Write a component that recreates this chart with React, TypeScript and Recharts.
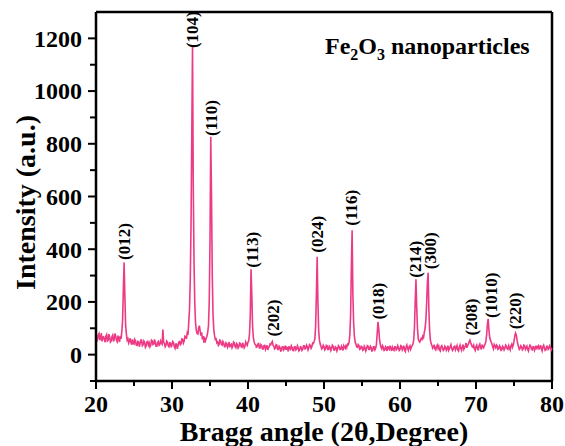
import { LineChart, Line, XAxis, YAxis, ReferenceLine, ReferenceDot } from 'recharts'

const FONT = '"Liberation Serif", "Times New Roman", serif'
const TRACE = '#ec3a84'

// scan counts every 0.1 deg from 20 to 80 (one row per degree)
const SCAN_START = 20
const SCAN_STEP = 0.1
const scanCounts = [
  72, 50, 58, 75, 80, 55, 63, 82, 50, 66,
  68, 58, 47, 70, 76, 52, 55, 78, 66, 48,
  52, 68, 74, 50, 58, 80, 70, 54, 49, 72,
  62, 48, 71, 60, 88, 130, 250, 350, 220, 110,
  78, 55, 60, 44, 52, 62, 46, 38, 58, 42,
  40, 58, 52, 36, 35, 50, 48, 30, 42, 55,
  55, 34, 38, 52, 47, 28, 33, 48, 50, 36,
  44, 30, 36, 55, 52, 38, 40, 58, 47, 32,
  32, 46, 50, 35, 38, 52, 45, 40, 95, 48,
  42, 30, 36, 52, 48, 34, 30, 45, 44, 28,
  38, 50, 46, 30, 24, 40, 40, 22, 35, 48,
  50, 38, 42, 60, 58, 44, 52, 70, 68, 60,
  82, 75, 120, 170, 280, 480, 820, 1170, 640, 350,
  190, 120, 92, 80, 78, 100, 110, 90, 72, 85,
  58, 70, 45, 60, 52, 62, 70, 85, 110, 200,
  430, 827, 600, 300, 150, 95, 72, 58, 60, 45,
  48, 35, 40, 55, 52, 38, 36, 50, 44, 30,
  30, 45, 42, 28, 35, 48, 28, 38, 40, 26,
  33, 48, 45, 30, 26, 42, 38, 25, 30, 44,
  42, 30, 28, 45, 36, 26, 32, 48, 40, 35,
  48, 52, 80, 150, 324, 230, 110, 65, 50, 40,
  38, 28, 30, 40, 42, 25, 26, 38, 34, 22,
  22, 34, 35, 20, 28, 36, 18, 26, 30, 40,
  38, 45, 50, 35, 32, 22, 24, 38, 36, 20,
  20, 32, 28, 14, 16, 30, 30, 18, 24, 34,
  18, 28, 26, 12, 32, 24, 20, 34, 28, 16,
  15, 30, 30, 18, 22, 34, 26, 14, 18, 30,
  28, 16, 20, 34, 34, 22, 24, 36, 30, 18,
  26, 38, 35, 24, 30, 44, 42, 50, 60, 110,
  230, 371, 200, 90, 55, 40, 32, 22, 26, 36,
  30, 18, 22, 35, 34, 20, 20, 32, 28, 16,
  24, 36, 32, 18, 18, 30, 27, 14, 22, 34,
  30, 20, 20, 32, 26, 16, 34, 28, 24, 38,
  28, 40, 38, 48, 75, 150, 330, 472, 230, 120,
  70, 48, 40, 30, 28, 38, 34, 20, 22, 32,
  30, 16, 18, 32, 26, 14, 22, 34, 32, 20,
  20, 32, 28, 14, 16, 30, 30, 18, 24, 40,
  80, 124, 100, 60, 40, 28, 22, 34, 28, 16,
  18, 30, 26, 14, 32, 24, 20, 34, 24, 14,
  28, 20, 16, 30, 30, 18, 22, 34, 26, 16,
  20, 34, 32, 18, 24, 34, 18, 12, 28, 36,
  24, 16, 30, 34, 20, 28, 34, 40, 55, 100,
  200, 286, 180, 100, 60, 52, 48, 55, 62, 58,
  70, 65, 85, 100, 130, 190, 270, 311, 170, 90,
  55, 42, 35, 24, 28, 38, 22, 18, 30, 36,
  24, 32, 18, 14, 30, 34, 26, 16, 20, 32,
  28, 16, 22, 34, 16, 22, 30, 38, 24, 16,
  20, 30, 32, 18, 26, 34, 18, 14, 28, 36,
  24, 16, 30, 38, 20, 26, 34, 44, 26, 34,
  40, 50, 55, 45, 38, 30, 28, 36, 22, 16,
  30, 36, 24, 16, 34, 40, 28, 20, 38, 30,
  26, 34, 40, 50, 75, 115, 136, 95, 65, 55,
  48, 40, 30, 22, 38, 32, 26, 36, 32, 20,
  22, 34, 30, 16, 18, 32, 28, 18, 24, 36,
  32, 22, 20, 34, 26, 18, 34, 40, 28, 36,
  50, 70, 82, 75, 55, 40, 30, 20, 24, 34,
  30, 18, 22, 36, 34, 20, 26, 32, 20, 14,
  28, 36, 32, 20, 18, 30, 30, 16, 24, 34,
  20, 30, 34, 22, 26, 36, 22, 14, 30, 36,
  26, 16, 18, 32, 32, 20, 24, 34, 28, 18,
  24,
]

// hkl labels: angle and intensity at the foot of the label
const peakLabels = [
  { hkl: '(012)', angle: 23.75, at: 359 },
  { hkl: '(104)', angle: 32.75, at: 1163 },
  { hkl: '(110)', angle: 35.2, at: 830 },
  { hkl: '(113)', angle: 40.65, at: 330 },
  { hkl: '(202)', angle: 43.33, at: 69 },
  { hkl: '(024)', angle: 49.17, at: 387 },
  { hkl: '(116)', angle: 53.64, at: 489 },
  { hkl: '(018)', angle: 57.14, at: 133 },
  { hkl: '(214)', angle: 62.0, at: 292 },
  { hkl: '(300)', angle: 64.0, at: 324 },
  { hkl: '(208)', angle: 69.43, at: 73 },
  { hkl: '(1010)', angle: 72.07, at: 139 },
  { hkl: '(220)', angle: 75.26, at: 96 },
]

const xTicks = [20, 25, 30, 35, 40, 45, 50, 55, 60, 65, 70, 75, 80]
const yTicks = [-100, 0, 100, 200, 300, 400, 500, 600, 700, 800, 900, 1000, 1100, 1200]

const data = scanCounts.map((c, i) => ({ angle: +(SCAN_START + i * SCAN_STEP).toFixed(2), counts: c }))

const tickText = { fontFamily: FONT, fontWeight: 'bold' as const, fontSize: 24, fill: '#000' }

function XTick({ x, y, payload }: any) {
  const major = payload.value % 10 === 0
  return (
    <g>
      <line x1={x} y1={y} x2={x} y2={y + (major ? 8 : 5)} stroke="#000" strokeWidth={2} />
      {major && (
        <text x={x} y={y + 31} textAnchor="middle" style={tickText}>
          {payload.value}
        </text>
      )}
    </g>
  )
}

function YTick({ x, y, payload }: any) {
  const major = payload.value >= 0 && payload.value % 200 === 0
  return (
    <g>
      <line x1={x} y1={y} x2={x - (major ? 8 : 6)} y2={y} stroke="#000" strokeWidth={2} />
      {major && (
        <text x={x - 14} y={y} dy="0.35em" textAnchor="end" style={tickText}>
          {payload.value}
        </text>
      )}
    </g>
  )
}

const titleText = { fontFamily: FONT, fontWeight: 'bold' as const, fontSize: 28, fill: '#000' }

export default function App() {
  return (
    <div style={{ position: 'absolute', left: 0, top: 0, width: 565, height: 446, background: '#fff' }}>
      <LineChart width={565} height={446} data={data} margin={{ top: 12, right: 13, bottom: 0, left: 0 }}>
        <XAxis
          type="number"
          dataKey="angle"
          domain={[20, 80]}
          ticks={xTicks}
          interval={0}
          height={65}
          tickSize={0}
          tickMargin={0}
          tickLine={false}
          axisLine={{ stroke: '#000', strokeWidth: 2.5 }}
          tick={(p: any) => <XTick {...p} />}
          label={{
            content: ({ viewBox }: any) => (
              <text x={viewBox.x + viewBox.width / 2} y={viewBox.y + 60} textAnchor="middle" style={titleText}>
                Bragg angle (2θ,Degree)
              </text>
            ),
          }}
        />
        <YAxis
          type="number"
          domain={[-100, 1300]}
          ticks={yTicks}
          interval={0}
          width={96}
          tickSize={0}
          tickMargin={0}
          tickLine={false}
          axisLine={{ stroke: '#000', strokeWidth: 2.5 }}
          tick={(p: any) => <YTick {...p} />}
          label={{
            content: ({ viewBox }: any) => {
              const cx = viewBox.x + 35
              const cy = viewBox.y + viewBox.height / 2 + 6
              return (
                <text x={cx} y={cy} textAnchor="middle" transform={`rotate(-90 ${cx} ${cy})`} style={titleText}>
                  Intensity (a.u.)
                </text>
              )
            },
          }}
        />
        <ReferenceLine y={1300} stroke="#000" strokeWidth={2.5} />
        <ReferenceLine x={80} stroke="#000" strokeWidth={2.5} />
        <Line
          type="linear"
          dataKey="counts"
          stroke={TRACE}
          strokeWidth={1.6}
          dot={false}
          isAnimationActive={false}
        />
        {peakLabels.map((l) => (
          <ReferenceDot
            key={l.hkl}
            x={l.angle}
            y={l.at}
            r={0}
            shape={(p: any) => (
              <text
                x={p.cx}
                y={p.cy}
                dominantBaseline="central"
                transform={`rotate(-90 ${p.cx} ${p.cy})`}
                style={{ fontFamily: FONT, fontWeight: 'bold', fontSize: 17, fill: '#000' }}
              >
                {l.hkl}
              </text>
            )}
          />
        ))}
      </LineChart>
      <svg width={565} height={446} style={{ position: 'absolute', left: 0, top: 0, pointerEvents: 'none' }}>
        <text x={325} y={54} style={{ fontFamily: FONT, fontWeight: 'bold', fontSize: 24, fill: '#000' }}>
          Fe
          <tspan dy={6} fontSize={16}>2</tspan>
          <tspan dy={-6}>O</tspan>
          <tspan dy={6} fontSize={16}>3</tspan>
          <tspan dy={-6}> nanoparticles</tspan>
        </text>
      </svg>
    </div>
  )
}
